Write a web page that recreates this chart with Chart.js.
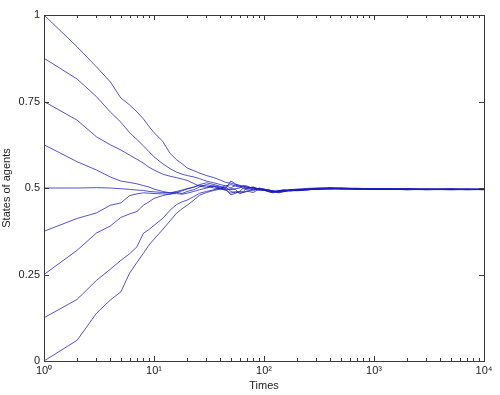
<!DOCTYPE html>
<html>
<head>
<meta charset="utf-8">
<script src="https://cdn.jsdelivr.net/npm/chart.js@4.4.0/dist/chart.umd.min.js"></script>
<style>
  html, body { margin: 0; padding: 0; background: #fff; }
  #wrap { width: 500px; height: 395px; }
</style>
</head>
<body>
<div id="wrap"><canvas id="myChart" width="500" height="395"></canvas></div>
<script>
// time steps (log axis) and the state of each agent at those steps
var times = [1, 2, 3, 4, 5, 6, 7, 8, 9, 10, 12, 14, 16, 18, 20, 23, 26, 30,
  35, 40, 45, 50, 55, 60, 65, 70, 80, 90, 100,
  110, 120, 135, 150, 175, 200, 250, 300, 400, 500, 700, 1000, 1500, 2000, 3000, 5000, 7000, 10000];

var agent1 = [1.0, 0.908, 0.85, 0.807, 0.76, 0.74, 0.72, 0.70, 0.678, 0.66, 0.635, 0.60, 0.582, 0.57, 0.558, 0.55, 0.543, 0.536,
  0.53, 0.523, 0.516, 0.514, 0.51, 0.508, 0.505, 0.503, 0.5, 0.498, 0.497,
  0.494, 0.491, 0.49, 0.493, 0.495, 0.497, 0.499, 0.5, 0.501, 0.5, 0.499, 0.498, 0.498, 0.497, 0.497, 0.497, 0.496, 0.497];
var agent2 = [0.875, 0.815, 0.764, 0.72, 0.69, 0.66, 0.64, 0.622, 0.605, 0.59, 0.57, 0.556, 0.546, 0.54, 0.536, 0.532, 0.527, 0.52,
  0.515, 0.51, 0.506, 0.51, 0.505, 0.503, 0.506, 0.502, 0.5, 0.496, 0.494,
  0.492, 0.488, 0.491, 0.492, 0.493, 0.494, 0.497, 0.499, 0.5, 0.498, 0.499, 0.497, 0.498, 0.497, 0.496, 0.497, 0.497, 0.496];
var agent3 = [0.75, 0.696, 0.648, 0.625, 0.61, 0.595, 0.583, 0.572, 0.56, 0.552, 0.54, 0.534, 0.53, 0.526, 0.522, 0.513, 0.505, 0.502,
  0.506, 0.503, 0.5, 0.52, 0.512, 0.506, 0.502, 0.5, 0.503, 0.497, 0.495,
  0.496, 0.49, 0.487, 0.49, 0.494, 0.493, 0.495, 0.497, 0.498, 0.497, 0.496, 0.496, 0.497, 0.496, 0.496, 0.495, 0.496, 0.496];
var agent4 = [0.625, 0.576, 0.552, 0.532, 0.52, 0.516, 0.512, 0.507, 0.503, 0.497, 0.49, 0.486, 0.488, 0.484, 0.49, 0.495, 0.503, 0.51,
  0.505, 0.5, 0.507, 0.5, 0.508, 0.505, 0.498, 0.495, 0.492, 0.5, 0.497,
  0.49, 0.487, 0.492, 0.495, 0.491, 0.494, 0.496, 0.496, 0.499, 0.499, 0.498, 0.497, 0.496, 0.495, 0.497, 0.496, 0.495, 0.496];
var agent5 = [0.5, 0.5, 0.501, 0.5, 0.498, 0.496, 0.494, 0.493, 0.49, 0.489, 0.487, 0.486, 0.49, 0.494, 0.498, 0.503, 0.508, 0.506,
  0.5, 0.497, 0.502, 0.49, 0.486, 0.49, 0.5, 0.499, 0.502, 0.495, 0.493,
  0.491, 0.493, 0.489, 0.494, 0.493, 0.492, 0.494, 0.498, 0.497, 0.498, 0.497, 0.498, 0.496, 0.496, 0.495, 0.497, 0.496, 0.495];
var agent6 = [0.375, 0.412, 0.428, 0.45, 0.457, 0.478, 0.483, 0.486, 0.485, 0.484, 0.483, 0.482, 0.487, 0.492, 0.497, 0.502, 0.51, 0.515,
  0.51, 0.505, 0.498, 0.495, 0.498, 0.5, 0.507, 0.506, 0.497, 0.493, 0.496,
  0.494, 0.491, 0.486, 0.489, 0.494, 0.495, 0.497, 0.496, 0.5, 0.499, 0.497, 0.496, 0.497, 0.498, 0.495, 0.496, 0.497, 0.495];
var agent7 = [0.25, 0.32, 0.37, 0.39, 0.415, 0.425, 0.432, 0.45, 0.46, 0.47, 0.478, 0.483, 0.484, 0.482, 0.485, 0.49, 0.495, 0.5,
  0.505, 0.498, 0.494, 0.485, 0.49, 0.487, 0.49, 0.5, 0.495, 0.498, 0.494,
  0.489, 0.486, 0.491, 0.493, 0.495, 0.494, 0.496, 0.498, 0.497, 0.5, 0.498, 0.497, 0.496, 0.497, 0.496, 0.496, 0.496, 0.497];
var agent8 = [0.125, 0.178, 0.233, 0.265, 0.291, 0.31, 0.33, 0.369, 0.38, 0.392, 0.412, 0.436, 0.452, 0.46, 0.465, 0.475, 0.485, 0.49,
  0.495, 0.5, 0.496, 0.48, 0.485, 0.49, 0.487, 0.49, 0.498, 0.496, 0.493,
  0.493, 0.49, 0.488, 0.49, 0.492, 0.495, 0.495, 0.497, 0.499, 0.497, 0.497, 0.498, 0.497, 0.495, 0.496, 0.497, 0.495, 0.496];
var agent9 = [0, 0.06, 0.138, 0.176, 0.2, 0.254, 0.285, 0.311, 0.335, 0.352, 0.38, 0.405, 0.427, 0.44, 0.45, 0.465, 0.479, 0.487,
  0.493, 0.497, 0.494, 0.498, 0.496, 0.483, 0.488, 0.491, 0.487, 0.497, 0.494,
  0.49, 0.489, 0.493, 0.491, 0.494, 0.493, 0.496, 0.497, 0.498, 0.498, 0.498, 0.496, 0.496, 0.497, 0.497, 0.495, 0.496, 0.496];

var agents = [agent1, agent2, agent3, agent4, agent5, agent6, agent7, agent8, agent9];

var xTickValues = [1, 10, 100, 1000, 10000];
var xTickLabels = ["10\u2070", "10\u00B9", "10\u00B2", "10\u00B3", "10\u2074"];
var yTickValues = [0, 0.25, 0.5, 0.75, 1];
var yTickLabels = ["0", "0.25", "0.5", "0.75", "1"];

var axisColor = "#3a3a3a";
var textColor = "#222";

// box around plot + inward matlab style ticks
var boxTicks = {
  id: "boxTicks",
  afterDatasetsDraw: function (chart) {
    var c = chart.ctx, a = chart.chartArea;
    var xs = chart.scales.x, ys = chart.scales.y;
    c.save();
    c.strokeStyle = axisColor;
    c.lineWidth = 1;
    c.strokeRect(Math.round(a.left) + 0.5, Math.round(a.top) + 0.5, Math.round(a.right - a.left), Math.round(a.bottom - a.top));
    c.beginPath();
    for (var d = 1; d <= 10000; d *= 10) {
      for (var m = 1; m <= 9; m++) {
        var v = d * m;
        if (v > 10000) break;
        var len = m === 1 ? 5 : 3;
        var px = Math.round(xs.getPixelForValue(v)) + 0.5;
        c.moveTo(px, a.bottom); c.lineTo(px, a.bottom - len);
        c.moveTo(px, a.top); c.lineTo(px, a.top + len);
      }
    }
    yTickValues.forEach(function (v) {
      var py = Math.round(ys.getPixelForValue(v)) + 0.5;
      c.moveTo(a.left, py); c.lineTo(a.left + 5, py);
      c.moveTo(a.right, py); c.lineTo(a.right - 5, py);
    });
    c.stroke();
    c.restore();
  }
};

document.addEventListener("DOMContentLoaded", function () {
  var ctx = document.getElementById("myChart").getContext("2d");
  var datasets = agents.map(function (vals, i) {
    return {
      label: "agent " + (i + 1),
      data: times.map(function (t, k) { return { x: t, y: vals[k] }; }),
      borderColor: "rgba(25, 25, 190, 0.75)",
      backgroundColor: "transparent",
      borderWidth: 1,
      pointRadius: 0,
      tension: 0
    };
  });

  var myChart = new Chart(ctx, {
    type: "line",
    data: { datasets: datasets },
    options: {
      responsive: false,
      animation: false,
      layout: { padding: { top: 15, right: 16, left: 0, bottom: 0 } },
      plugins: { legend: { display: false }, tooltip: { enabled: false } },
      scales: {
        x: {
          type: "logarithmic",
          min: 1,
          max: 10000,
          grid: { display: false, drawTicks: false },
          border: { display: false },
          afterBuildTicks: function (scale) {
            scale.ticks = xTickValues.map(function (v) { return { value: v, major: true }; });
          },
          afterFit: function (scale) { scale.height = 34; },
          ticks: {
            color: textColor,
            font: { family: "Liberation Sans", size: 11 },
            padding: 3,
            maxRotation: 0,
            autoSkip: false,
            callback: function (value) {
              var i = xTickValues.indexOf(value);
              return i >= 0 ? xTickLabels[i] : "";
            }
          },
          title: {
            display: true,
            text: "Times",
            color: textColor,
            font: { family: "Liberation Sans", size: 11 },
            padding: { top: 0, bottom: 2 }
          }
        },
        y: {
          type: "linear",
          min: 0,
          max: 1,
          grid: { display: false, drawTicks: false },
          border: { display: false },
          afterBuildTicks: function (scale) {
            scale.ticks = yTickValues.map(function (v) { return { value: v }; });
          },
          afterFit: function (scale) { scale.width = 44; },
          ticks: {
            color: textColor,
            font: { family: "Liberation Sans", size: 11 },
            padding: 4,
            callback: function (value) {
              var i = yTickValues.indexOf(value);
              return i >= 0 ? yTickLabels[i] : "";
            }
          },
          title: {
            display: true,
            text: "States of agents",
            color: textColor,
            font: { family: "Liberation Sans", size: 11 },
            padding: { top: 0, bottom: 0 }
          }
        }
      }
    },
    plugins: [boxTicks]
  });
});
</script>
</body>
</html>
